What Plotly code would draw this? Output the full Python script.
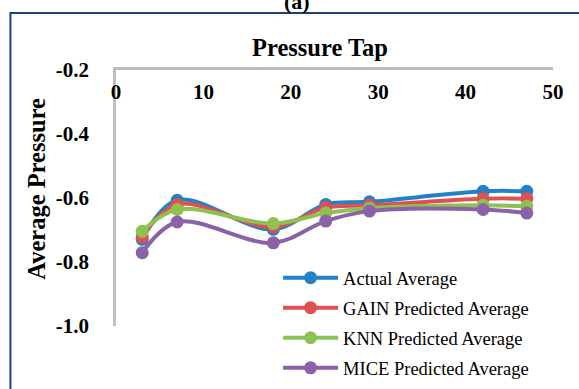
import plotly.graph_objects as go

taps = [3, 7, 18, 24, 29, 42, 47]
actual = [-0.729, -0.607, -0.698, -0.620, -0.612, -0.579, -0.579]
gain = [-0.722, -0.620, -0.690, -0.630, -0.623, -0.602, -0.602]
knn = [-0.704, -0.636, -0.680, -0.647, -0.632, -0.623, -0.626]
mice = [-0.771, -0.675, -0.740, -0.672, -0.641, -0.636, -0.647]

series_names = ["Actual Average", "GAIN Predicted Average", "KNN Predicted Average", "MICE Predicted Average"]
series_vals = [actual, gain, knn, mice]
colors = ["#2381C8", "#E05050", "#8DC151", "#8A62A8"]

y_ticks = [-0.2, -0.4, -0.6, -0.8, -1.0]
y_ticktext = ["-0.2", "-0.4", "-0.6", "-0.8", "-1.0"]
x_ticks = [0, 10, 20, 30, 40, 50]

fig = go.Figure()
for i, (name, vals, c) in enumerate(zip(series_names, series_vals, colors)):
    fig.add_trace(go.Scatter(
        x=taps, y=vals, name=name, mode="lines+markers",
        line=dict(color=c, width=4, shape="spline", smoothing=1.0),
        marker=dict(color=c, size=13),
        legendgroup=f"g{i}",
    ))

W, H = 579, 389
L, R = 115.7, 553.3
T, B = 69.5, 326.0
pw, ph = R - L, B - T

def px(x):
    return (x - L) / pw

def py(y):
    return (B - y) / ph

serif = "Liberation Serif, Times New Roman, serif"
tickfont = dict(family=serif, size=21, color="black", weight="bold")

fig.update_layout(
    width=W, height=H, autosize=False,
    margin=dict(l=L, r=W - R, t=T, b=H - B, pad=0, autoexpand=False),
    paper_bgcolor="white", plot_bgcolor="white",
    showlegend=True,
    font=dict(family=serif, color="black"),
    title=dict(text="<b>Pressure Tap</b>", x=320 / W, xref="container", xanchor="center",
               y=1 - 47 / H, yref="container", yanchor="middle",
               font=dict(family=serif, size=24.5, color="black")),
    xaxis=dict(range=[0, 50], side="top", tickvals=x_ticks, ticklabelposition="inside",
               ticklabeloverflow="allow", automargin=False,
               showgrid=False, zeroline=False, showline=True, linecolor="#BFBFBF", linewidth=2.5,
               ticks="", tickfont=tickfont,
               ticklabelstandoff=16, fixedrange=True),
    yaxis=dict(range=[-1.0, -0.2], tickvals=y_ticks, ticktext=y_ticktext,
               ticklabeloverflow="allow", automargin=False,
               showgrid=False, zeroline=False, showline=True, linecolor="#BFBFBF", linewidth=2.5,
               ticks="", tickfont=tickfont,
               ticklabelstandoff=20, fixedrange=True),
    legend=dict(x=px(278), xanchor="left", y=py(259), yanchor="top",
                bgcolor="rgba(0,0,0,0)", borderwidth=0,
                font=dict(family=serif, size=18.5, color="black"),
                itemwidth=55, tracegroupgap=3),
)

fig.add_annotation(text="<b>Average Pressure</b>", textangle=-90, xref="paper", yref="paper",
                   x=px(36), y=py(188), xanchor="center", yanchor="middle", showarrow=False,
                   font=dict(family=serif, size=24.5, color="black"))
fig.add_annotation(text="<b>(a)</b>", xref="paper", yref="paper",
                   x=px(297), y=py(15), xanchor="center", yanchor="bottom", showarrow=False,
                   font=dict(family=serif, size=22, color="black"))

fig.add_shape(type="rect", xref="paper", yref="paper",
              x0=px(10), x1=px(600), y0=py(420), y1=py(12.5),
              line=dict(color="#203F80", width=2), fillcolor="rgba(0,0,0,0)", layer="below")

fig.write_html("out.html")
